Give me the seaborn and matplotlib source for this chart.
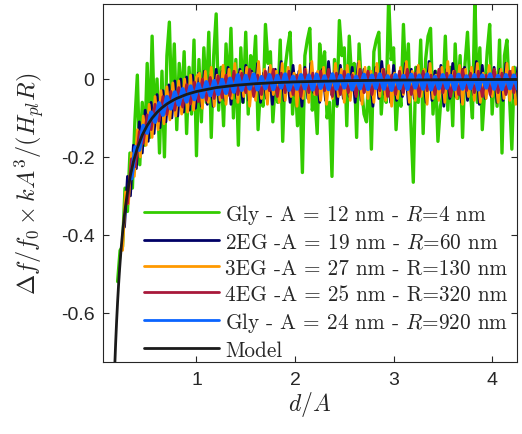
import numpy as np
import pandas as pd
import matplotlib
matplotlib.use("Agg")
import matplotlib.pyplot as plt
from matplotlib.font_manager import FontProperties
import seaborn as sns

# ---------------- data (values in units of 1e-3) ----------------
# Gly - A = 12 nm - R = 4 nm : d/A from 0.20, step 0.025
gly12_x0, gly12_dx = 0.20, 0.025
gly12_y = [
    -520, -440, -430, -280, -340, -190, -280, -110, 10, -220,
    -60, -170, 40, -150, 110, -120, 0, -190, 20, -200,
    60, 146, -80, 90, -130, 40, -60, 70, -140, 30,
    -90, 100, -197, 50, -110, 80, -60, 120, -150, 60,
    167, -80, 30, -120, 90, -40, 130, -100, 50, -170,
    80, -60, 120,
    -90, 60, 10, 110, -130, -20, -70, 140, 40, 70,
    -110, -10, -60, 100, -160, 30, 80, 120, -90, 10,
    -120, -30, -240, 60, 100, 130, -80, -40, -140, 90,
    20, 70, -100, -60, -250, 50, -70, 150, 60, 80,
    -120, 110, 0, 40, -150, 90, -20, -90, -110, 30,
    -180, 70, 100, 120, -90, 10, -60, 210, 50, 80,
    -130, -20, -70, 140, -20, 90, -110, -265, 30, -60,
    100, -140, 50, 110, 130, -90, 20, -160, -70, -40,
    110, -80, 30, -120, 90, -50, 60, -150, 40, 120,
    -20, -100, 210, -60, 80, -130, -30, 70, 140, -90,
    20, -70, 100, -190, 60, 100, -40, -180, 30, -60,
]

# 2EG - A = 19 nm - R = 60 nm : from 0.27, step 0.03
eg2_x0, eg2_dx = 0.27, 0.03
eg2_y = [
    -380, -250, -300, -170, -230, -110, -190, -80, -160, -60,
    -140, -40, -125, -30, -110, -15, -100, -5, -95, 0,
    -85, 5, -80, 10, -75, 15, -70, 20, -65, 10,
    -70, 25, -60, 20, -55, 30, -65, 15, -50, 25,
    -60,
    35, -55, 20, -45, 40, -60, 15, -50, 30, -65,
    25, -40, 45, -55, 10, -60, 35, -45, 20, -70,
    30, -50, 40, -35, 15, -60, 25, -55, 45, -40,
    20, -65, 35, -50, 10, -45, 30, -60, 40, -55,
    25, -35, 15, -70, 30, -50, 45, -40, 20, -60,
    35, -55, 10, -45, 40, -65, 25, -50, 30, -40,
    15, -60, 45, -55, 20, -35, 35, -70, 25, -50,
    40, -45, 10, -60, 30, -55, 20, -40, 45, -65,
    35, -50, 15, -45, 30, -60, 25, -55, 40, -35,
    20, -50, 30,
]

# 3EG - A = 27 nm - R = 130 nm : from 0.25, step 0.03
eg3_x0, eg3_dx = 0.25, 0.03
eg3_y = [
    -440, -290, -320, -190, -250, -130, -200, -95, -170, -65,
    -150, -45, -130, -30, -115, -20, -105, -10, -95, -5,
    -90, 0, -85, 10, -80, 5,
    15, -75, 20, -60, 30, -70, 10, -55, 35, -65,
    25, -50, 40, -60, 20, -45, 30, -70, 15, -55,
    45, -50, 25, -65, 35, -40, 20, -60, 40, -55,
    30, -45, 15, -70, 35, -50, 25, -60, 45, -40,
    20, -55, 30, -65, 10, -50, 40, -45, 25, -60,
    35, -55, 15, -40, 45, -65, 30, -50, 20, -60,
    40, -45, 25, -55, 35, -70, 15, -50, 30, -40,
    45, -60, 20, -55, 35, -45, 25, -65, 40, -50,
    10, -55, 30, -60, 45, -40, 20, -50, 35, -65,
    25, -45, 30, -55, 40, -60, 15, -50, 35, -45,
    20, -60, 25, -50, 40, -55, 30, -65,
]

# 4EG - A = 25 nm - R = 320 nm : from 0.30, step 0.04
eg4_x0, eg4_dx = 0.30, 0.04
eg4_y = [
    -320, -205, -225, -135, -165, -92, -130, -65, -108, -45,
    -92, -32, -80, -22, -72, -14, -64, -8, -58, 0,
    -55, 4, -50, 8, -48, 10, -45,
    20, -40, 15, -35, 25, -45, 10, -40, 20, -30,
    25, -45, 15, -35, 20, -40, 10, -45, 25, -35,
    15, -40, 20, -30, 25, -45, 15, -40, 20, -35,
    10, -45, 25, -35, 20, -40, 15, -30, 25, -45,
    10, -40, 20, -35, 25, -40, 15, -45, 20, -30,
    10, -40, 25, -35, 15, -45, 20, -40, 25, -30,
    15, -35, 20, -45, 10, -40, 25, -35, 15, -40,
    20, -35, 15,
]

# Gly - A = 24 nm - R = 920 nm : from 0.34, step 0.04
gly24_x0, gly24_dx = 0.34, 0.04
gly24_y = [
    -255, -175, -182, -120, -138, -86, -110, -62, -92, -46,
    -76, -34, -66, -26, -58, -19, -52, -13, -46, -8,
    -42, -5, -39, -2, -36, 1, -33,
    10, -28, 8, -25, 12, -27, 5, -24, 10, -26,
    8, -22, 12, -28, 6, -25, 10, -24, 9, -27,
    11, -23, 7, -26, 12, -25, 8, -22, 10, -27,
    6, -24, 11, -26, 9, -23, 12, -25, 7, -28,
    10, -24, 8, -26, 11, -22, 9, -25, 12, -27,
    6, -24, 10, -23, 8, -26, 11, -25, 7, -24,
    10, -27, 9, -22, 12, -25, 8, -26, 10, -24,
    9, -25,
]

# Model
model_x = [0.165, 0.17, 0.18, 0.19, 0.20, 0.21, 0.22, 0.23, 0.24, 0.25,
           0.26, 0.27, 0.28, 0.30, 0.33, 0.36, 0.40, 0.45, 0.50, 0.55,
           0.60, 0.65, 0.70, 0.75, 0.80, 0.90, 1.0, 1.2, 1.4, 1.6,
           1.8, 2.0, 2.5, 3.0, 3.5, 4.0, 4.25]
model_y = [-780.6, -743.8, -678.0, -620.9, -571.0, -527.1, -488.3, -453.7, -422.8, -395.1,
           -370.0, -347.3, -326.7, -290.8, -247.2, -212.8, -177.2, -144.0, -119.3, -100.3,
           -85.5, -73.7, -64.1, -56.3, -49.7, -39.5, -32.1, -22.1, -16.0, -12.1,
           -9.3, -7.4, -4.4, -2.9, -2.0, -1.4, -1.2]

labels = [
    r"Gly - A = 12 nm - $R$=4 nm",
    r"2EG -A = 19 nm - $R$=60 nm",
    r"3EG -A = 27 nm - R=130 nm",
    r"4EG -A = 25 nm - R=320 nm",
    r"Gly - A = 24 nm - $R$=920 nm",
    "Model",
]
colors = ["#33CC00", "#000066", "#FF9900", "#A8183A", "#0A64FF", "#1a1a1a"]
x_ticks = [1, 2, 3, 4]
y_ticks = [-0.6, -0.4, -0.2, 0]
y_tick_labels = ["-0.6", "-0.4", "-0.2", "0"]

# ---------------- plotting ----------------
sns.set_style("ticks")
plt.rcParams["mathtext.fontset"] = "cm"
plt.rcParams["axes.unicode_minus"] = False
plt.rcParams["font.family"] = ["Liberation Sans", "DejaVu Sans"]

fig = plt.figure(figsize=(5.22, 4.35), dpi=100)
ax = fig.add_axes([0.197, 0.165, 0.793, 0.8235])

def series(x0, dx, vals):
    v = np.asarray(vals, dtype=float) / 1000.0
    x = x0 + dx * np.arange(len(v))
    return pd.DataFrame({"x": x, "y": v})

datasets = [
    (series(gly12_x0, gly12_dx, gly12_y), 2.4),
    (series(eg2_x0, eg2_dx, eg2_y), 2.0),
    (series(eg3_x0, eg3_dx, eg3_y), 2.0),
    (series(eg4_x0, eg4_dx, eg4_y), 2.0),
    (series(gly24_x0, gly24_dx, gly24_y), 3.0),
    (pd.DataFrame({"x": model_x, "y": np.asarray(model_y) / 1000.0}), 2.0),
]

for (df, lw), lab, col in zip(datasets, labels, colors):
    sns.lineplot(data=df, x="x", y="y", ax=ax, color=col, lw=lw, label=lab,
                 sort=False, estimator=None)

ax.set_xlim(0.05, 4.25)
ax.set_ylim(-0.727, 0.1925)
ax.set_xticks(x_ticks)
ax.set_yticks(y_ticks)
ax.set_yticklabels(y_tick_labels)
ax.tick_params(direction="in", length=4, width=0.8, top=True, right=True,
               labelsize=14, colors="#262626", pad=6)
for s in ax.spines.values():
    s.set_color("#262626")
    s.set_linewidth(0.8)

ax.set_xlabel(r"$d/A$", fontsize=17, labelpad=1, color="#262626")
ax.set_ylabel(r"$\Delta f/f_0 \times kA^3/(H_{pl}R)$", fontsize=17.5, labelpad=10,
              color="#262626")

leg = ax.legend(loc="lower right", bbox_to_anchor=(0.99, -0.005), frameon=False,
                prop=FontProperties(family="cmr10", size=15.3),
                handlelength=3.5, handletextpad=0.3, labelspacing=0.3,
                borderaxespad=0.0, borderpad=0.2)
for h in leg.get_lines():
    h.set_linewidth(2.0)

fig.savefig("out.png", dpi=100)
